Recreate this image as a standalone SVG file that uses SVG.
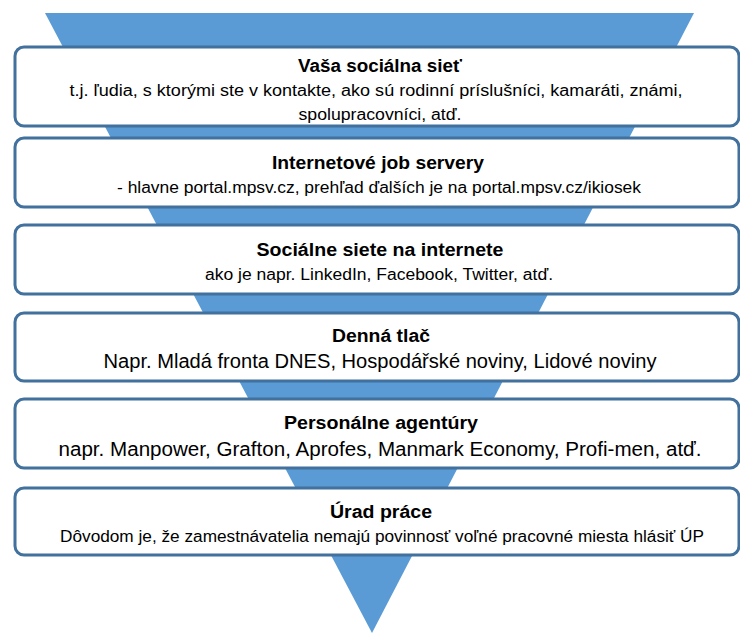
<svg xmlns="http://www.w3.org/2000/svg" width="740" height="633" viewBox="0 0 740 633">
  <style>
    .box { fill: #ffffff; stroke: #41719c; stroke-width: 3; }
    .title { font-family: "Liberation Sans", Arial, sans-serif; font-weight: bold; font-size: 18px; fill: #000; text-anchor: middle; }
    .sub { font-family: "Liberation Sans", Arial, sans-serif; font-size: 16px; fill: #000; text-anchor: middle; }
    .big { font-size: 20px; }
  </style>
  <!-- funnel background -->
  <polygon id="funnel" points="45,13 694,13 372,633" fill="#5b9bd5"/>
  <g id="levels">
    <g id="n1">
      <rect class="box" x="15" y="47" width="724" height="79" rx="9"/>
      <text class="title" x="380" y="72" textLength="164" lengthAdjust="spacingAndGlyphs">Vaša sociálna sieť</text>
      <text class="sub" x="376" y="96" textLength="613" lengthAdjust="spacingAndGlyphs">t.j. ľudia, s ktorými  ste v kontakte,  ako sú rodinní príslušníci, kamaráti, známi,</text>
      <text class="sub" x="380" y="120" textLength="163" lengthAdjust="spacingAndGlyphs">spolupracovníci, atď.</text>
    </g>
    <g id="n2">
      <rect class="box" x="15" y="138" width="724" height="69" rx="9"/>
      <text class="title" x="378" y="169" textLength="212" lengthAdjust="spacingAndGlyphs">Internetové job servery</text>
      <text class="sub" x="379" y="193" textLength="524" lengthAdjust="spacingAndGlyphs">- hlavne portal.mpsv.cz,  prehľad  ďalších je na portal.mpsv.cz/ikiosek</text>
    </g>
    <g id="n3">
      <rect class="box" x="15" y="225" width="724" height="69" rx="9"/>
      <text class="title" x="380" y="256" textLength="247" lengthAdjust="spacingAndGlyphs">Sociálne siete na internete</text>
      <text class="sub" x="379" y="280" textLength="348" lengthAdjust="spacingAndGlyphs">ako  je napr.  LinkedIn,  Facebook,  Twitter,  atď.</text>
    </g>
    <g id="n4">
      <rect class="box" x="15" y="313" width="724" height="68" rx="9"/>
      <text class="title" x="381" y="342" textLength="98" lengthAdjust="spacingAndGlyphs">Denná tlač</text>
      <text class="sub big" x="380" y="368" textLength="553" lengthAdjust="spacingAndGlyphs">Napr. Mladá fronta DNES, Hospodářské noviny, Lidové noviny</text>
    </g>
    <g id="n5">
      <rect class="box" x="15" y="399" width="724" height="69" rx="9"/>
      <text class="title" x="381" y="429" textLength="194" lengthAdjust="spacingAndGlyphs">Personálne agentúry</text>
      <text class="sub big" x="380" y="456" textLength="643" lengthAdjust="spacingAndGlyphs">napr. Manpower, Grafton, Aprofes, Manmark Economy, Profi-men, atď.</text>
    </g>
    <g id="n6">
      <rect class="box" x="15" y="488" width="724" height="67" rx="9"/>
      <text class="title" x="381" y="518" textLength="102" lengthAdjust="spacingAndGlyphs">Úrad práce</text>
      <text class="sub" x="382" y="542" textLength="644" lengthAdjust="spacingAndGlyphs">Dôvodom  je, že zamestnávatelia nemajú povinnosť voľné pracovné miesta hlásiť ÚP</text>
    </g>
  </g>
</svg>
